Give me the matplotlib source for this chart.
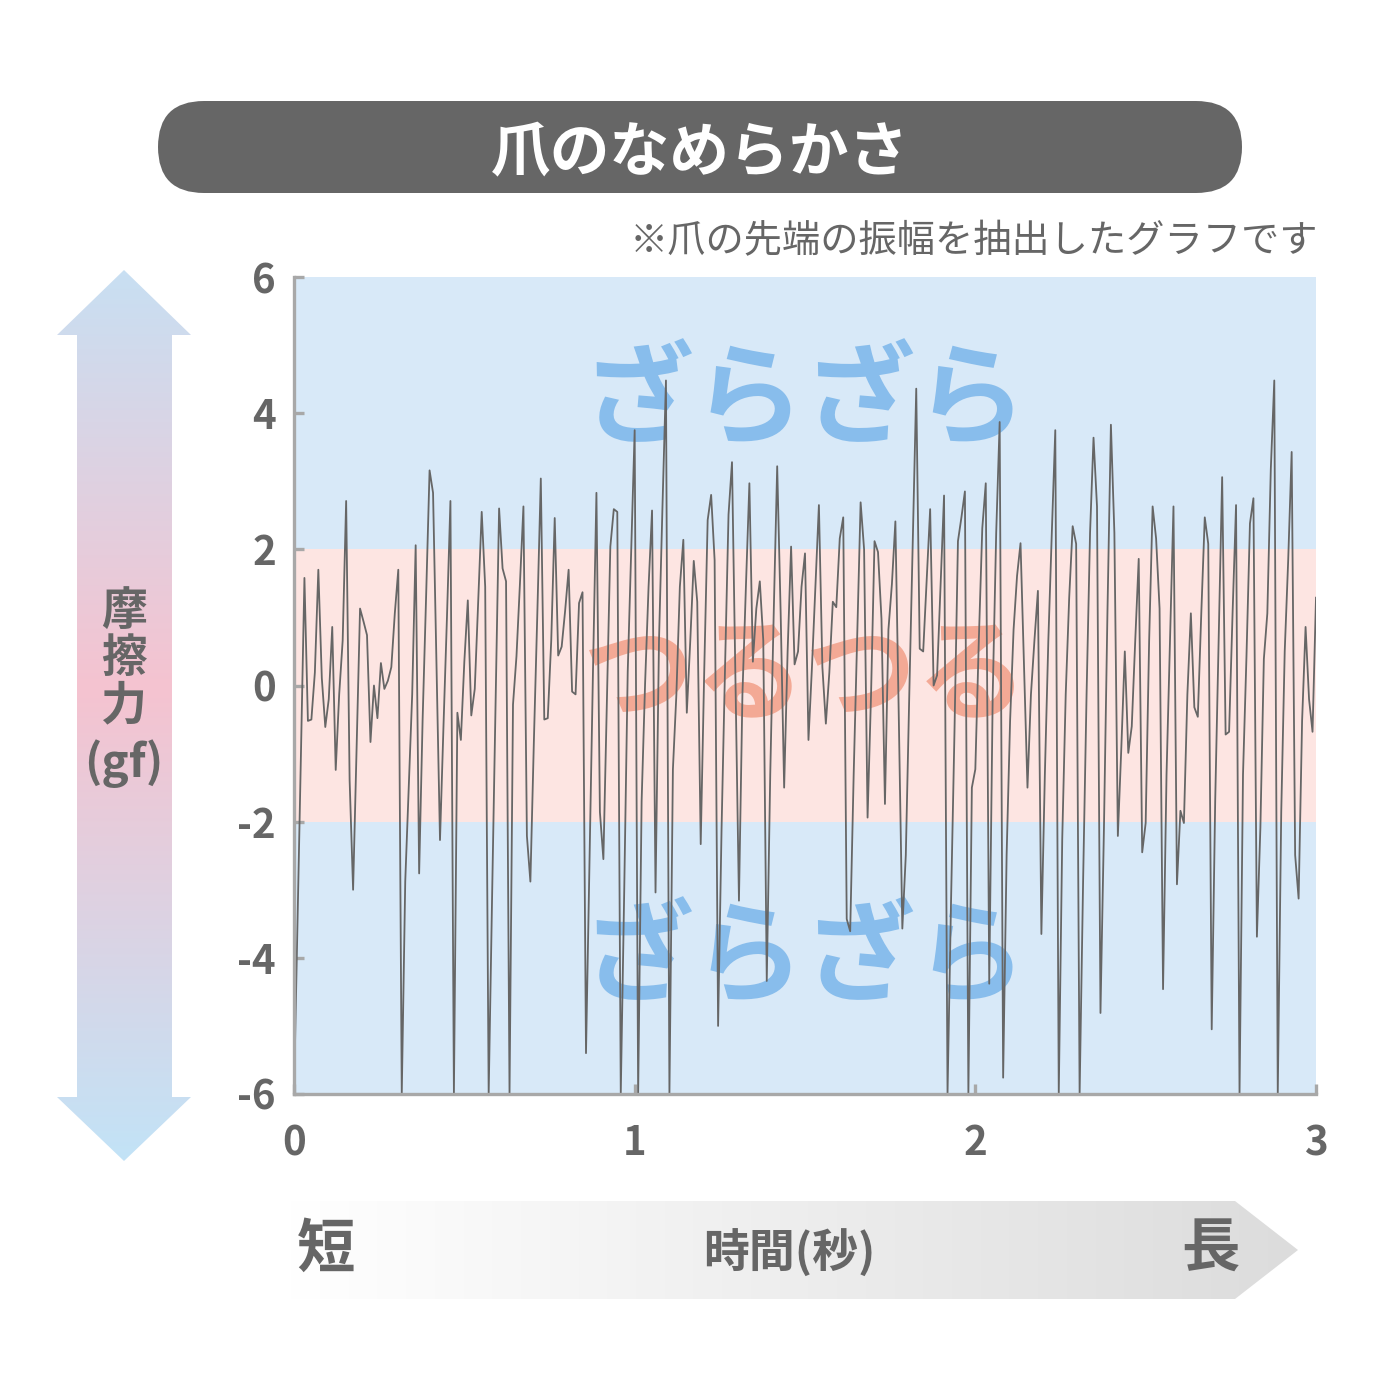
import numpy as np
import matplotlib
matplotlib.use("Agg")
import matplotlib.pyplot as plt
from matplotlib.patches import FancyBboxPatch, Polygon

plt.rcParams['font.family'] = ['Noto Sans CJK JP', 'DejaVu Sans']

# ---- data ----
friction = [
    -6.0, -3.5, -1.0, 1.58, -0.52, -0.50, 0.19, 1.70, 0.11, -0.61,
    -0.20, 0.86, -1.24, -0.13, 0.66, 2.71, -1.39, -3.0, -0.91, 1.13,
    0.94, 0.74, -0.83, 0.0, -0.48, 0.33, -0.05, 0.07, 0.27, 1.06,
    1.70, -6.0, -2.88, -1.5, -0.13, 2.06, -2.76, -0.5, 1.3, 3.16,
    2.83, 0.27, -2.27, -0.6, 1.0, 2.71, -6.0, -0.40, -0.80, 0.35,
    1.25, -0.44, -0.05, 1.25, 2.55, 1.45, -6.0, -3.06, -0.24, 2.6,
    1.72, 1.53, -6.0, -0.28, 0.43, 1.5, 2.63, -2.21, -2.88, -0.83,
    1.06, 3.04, -0.50, -0.48, 0.66, 2.46, 0.44, 0.57, 1.1, 1.70,
    -0.09, -0.13, 1.21, 1.37, -5.40, -2.6, 0.19, 2.83, -1.86, -2.55,
    -0.28, 2.04, 2.59, 2.55, -6.0, -3.0, 0.2, 2.0, 3.75, -6.0,
    -1.7, 0.03, 1.45, 2.57, -3.04, 0.66, 2.63, 4.48, -6.0, -1.23,
    -0.13, 1.45, 2.14, -0.40, 0.66, 1.83, 1.23, -2.33, 0.19, 2.43,
    2.80, 1.84, -5.0, -2.1, 0.27, 2.51, 3.28, 0.07, -3.16, -0.13,
    1.45, 2.97, 0.35, 1.13, 1.53, 0.66, -4.34, -1.31, 1.06, 3.22,
    1.06, -1.50, 0.50, 2.04, 0.31, 0.50, 1.45, 1.94, -0.80, 0.27,
    1.45, 2.65, 0.27, -0.56, 0.19, 1.23, 1.15, 2.16, 2.47, -3.43,
    -3.61, -1.31, 0.66, 2.69, 2.0, -1.94, -0.13, 2.12, 1.96, 0.98,
    -1.74, 0.82, 1.49, 2.41, -0.52, -3.57, -2.49, -0.13, 2.08, 4.36,
    0.54, 0.50, 1.53, 2.59, 0.0, 0.15, 1.45, 2.79, -6.0, -3.2,
    -0.68, 2.12, 2.47, 2.85, -6.0, -1.50, -1.23, 0.66, 2.31, 2.97,
    -4.38, -0.13, 2.24, 3.87, -5.76, -2.49, -0.52, 0.82, 1.61, 2.09,
    0.27, -1.50, -0.13, 0.66, 1.39, -3.65, -1.31, 0.66, 2.24, 3.75,
    -6.0, -2.25, -0.13, 1.29, 2.34, 2.08, -6.0, -2.88, -0.13, 2.24,
    3.64, 2.63, -4.81, -2.09, 1.06, 3.83, 2.24, -2.21, -0.91, 0.50,
    -0.99, -0.60, 0.66, 1.86, -2.45, -2.02, 0.66, 2.63, 2.16, 1.13,
    -4.46, -1.31, 0.66, 2.63, -2.92, -1.84, -2.02, -0.13, 1.06, -0.32,
    -0.46, 1.06, 2.47, 2.08, -5.05, -1.70, 0.66, 3.06, -0.72, -0.68,
    1.06, 2.65, -6.0, -1.31, 0.43, 2.38, 2.75, -3.69, -2.09, 0.39,
    1.06, 3.18, 4.48, -6.0, -1.86, 0.50, 1.84, 3.43, -2.49, -3.13,
    -0.52, 0.86, -0.20, -0.68, 1.29,
]
t_start, t_end = 0.0, 3.0
time = np.linspace(t_start, t_end, len(friction))

y_ticks = [-6, -4, -2, 0, 2, 4, 6]
y_tick_labels = ["-6", "-4", "-2", "0", "2", "4", "6"]
x_ticks = [0, 1, 2, 3]
x_tick_labels = ["0", "1", "2", "3"]
smooth_band = (-2, 2)

title = "爪のなめらかさ"
note = "※爪の先端の振幅を抽出したグラフです"
rough_label = "ざらざら"
smooth_label = "つるつる"
y_label_chars = ["摩", "擦", "力", "(gf)"]
x_label = "時間(秒)"
short_label = "短"
long_label = "長"

GRAY = "#666666"
AXGRAY = "#a8a8a8"

fig = plt.figure(figsize=(14, 14), dpi=100)
fig.patch.set_facecolor("white")

# ---- overlay in pixel coordinates ----
ov = fig.add_axes([0, 0, 1, 1])
ov.set_xlim(0, 1400)
ov.set_ylim(1400, 0)
ov.axis("off")

# title pill
pill = FancyBboxPatch((158, 101), 1084, 92,
                      boxstyle="round,pad=0,rounding_size=46",
                      fc="#666666", ec="none")
ov.add_patch(pill)
ov.text(700, 154, title, color="white", fontsize=43, fontweight="bold",
        ha="center", va="center")

# note
ov.text(1318, 242, note, color=GRAY, fontsize=27.5, ha="right", va="center")

# vertical gradient arrow
varrow = Polygon([(124, 270), (191, 335), (172, 335), (172, 1097), (191, 1097),
                  (124, 1161), (57, 1097), (77, 1097), (77, 335), (57, 335)],
                 closed=True, fc="none", ec="none")
ov.add_patch(varrow)
c_end = np.array([0xc2, 0xe3, 0xf7]) / 255
c_mid = np.array([0xf5, 0xc3, 0xd0]) / 255
yy = np.linspace(0, 1, 400)
w = 1 - np.abs(yy - 0.47) / 0.53
w = np.clip(w, 0, 1)
grad = (c_end[None, :] * (1 - w[:, None]) + c_mid[None, :] * w[:, None])
grad_img = np.repeat(grad[:, None, :], 2, axis=1)
im = ov.imshow(grad_img, extent=(55, 193, 1162, 268), aspect="auto",
               interpolation="bilinear", zorder=1)
im.set_clip_path(varrow)

ys = [612, 659, 706, 764]
for ch, yv in zip(y_label_chars, ys):
    ov.text(124, yv, ch, color=GRAY, fontsize=33, fontweight="bold",
            ha="center", va="center", zorder=3)

# horizontal gradient arrow
harrow = Polygon([(290, 1201), (1235, 1201), (1298, 1250), (1235, 1299), (290, 1299)],
                 closed=True, fc="none", ec="none")
ov.add_patch(harrow)
xx = np.linspace(0, 1, 400)
c_l = np.array([1.0, 1.0, 1.0])
c_r = np.array([0xdc, 0xdc, 0xdc]) / 255
hgrad = c_l[None, :] * (1 - xx[:, None]) + c_r[None, :] * xx[:, None]
hgrad_img = np.repeat(hgrad[None, :, :], 2, axis=0)
im2 = ov.imshow(hgrad_img, extent=(290, 1298, 1299, 1201), aspect="auto",
                interpolation="bilinear", zorder=1)
im2.set_clip_path(harrow)

ov.text(326, 1250, short_label, color=GRAY, fontsize=42, fontweight="bold",
        ha="center", va="center", zorder=3)
ov.text(789, 1254, x_label, color=GRAY, fontsize=33, fontweight="bold",
        ha="center", va="center", zorder=3)
ov.text(1210, 1250, long_label, color=GRAY, fontsize=42, fontweight="bold",
        ha="center", va="center", zorder=3)

# ---- main chart ----
ax = fig.add_axes([294 / 1400, 1 - 1094 / 1400, 1022 / 1400, 817 / 1400])
ax.set_xlim(t_start, t_end)
ax.set_ylim(-6, 6)
ax.set_facecolor("#d8e9f8")
ax.axhspan(smooth_band[0], smooth_band[1], color="#fde5e2", zorder=0, lw=0)

ax.text(1.5, 4.15, rough_label, color="#88bdec", fontsize=80, fontweight="bold",
        ha="center", va="center", zorder=1)
ax.text(1.5, 0.1, smooth_label, color="#f3a995", fontsize=80, fontweight="bold",
        ha="center", va="center", zorder=1)
ax.text(1.5, -4.05, rough_label, color="#88bdec", fontsize=80, fontweight="bold",
        ha="center", va="center", zorder=1)

ax.plot(time, friction, color=GRAY, lw=1.3, zorder=3)

for s in ["top", "right"]:
    ax.spines[s].set_visible(False)
for s in ["left", "bottom"]:
    ax.spines[s].set_color(AXGRAY)
    ax.spines[s].set_linewidth(2.4)
    ax.spines[s].set_zorder(4)

ax.set_yticks(y_ticks)
ax.set_yticklabels(y_tick_labels)
ax.set_xticks(x_ticks)
ax.set_xticklabels(x_tick_labels)
ax.tick_params(axis="both", direction="in", length=7, width=2.4, color=AXGRAY,
               labelcolor=GRAY, labelsize=29)
ax.tick_params(axis="y", pad=13)
ax.tick_params(axis="x", pad=21)
for lab in ax.get_xticklabels() + ax.get_yticklabels():
    lab.set_fontweight("bold")

fig.savefig("out.png", dpi=100, facecolor="white")
